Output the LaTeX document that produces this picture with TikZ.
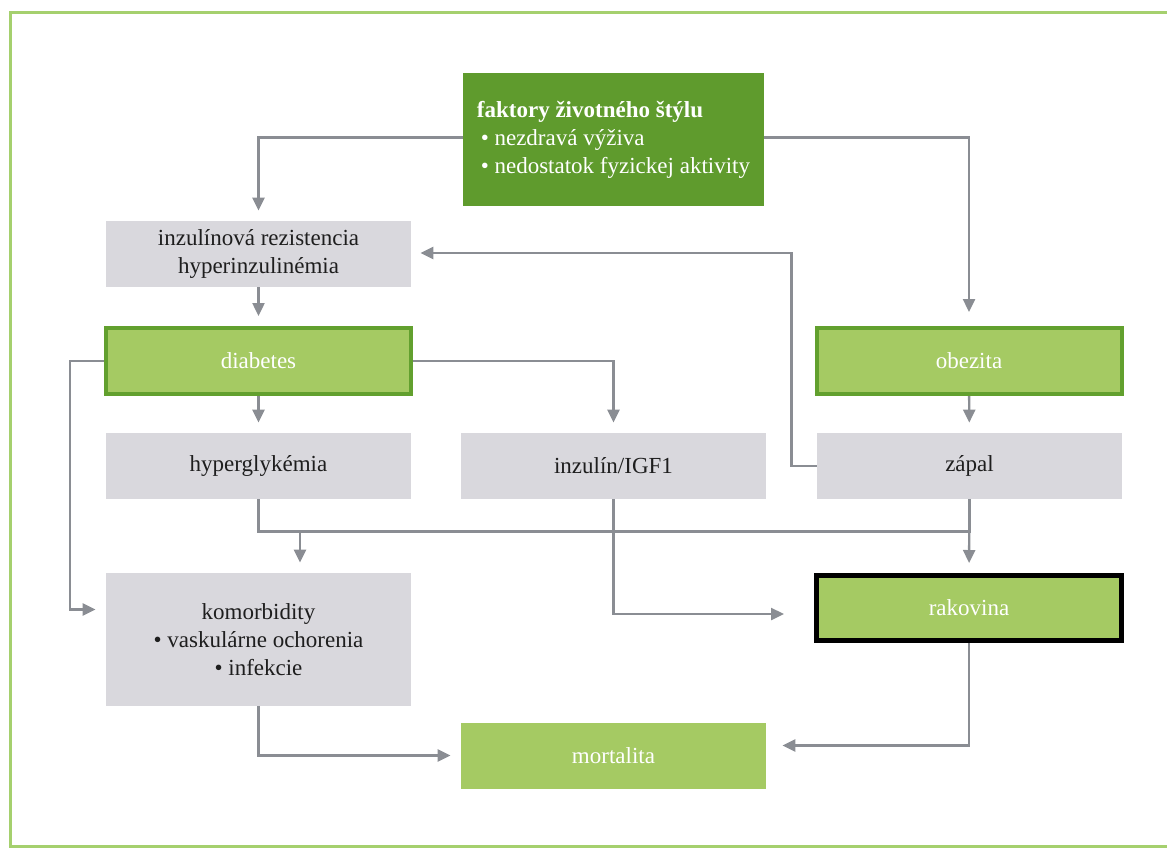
\documentclass[tikz,border=0pt]{standalone}
\usepackage{fontspec}
\setmainfont{Liberation Serif}
\usepackage{xcolor}
\usetikzlibrary{arrows.meta, positioning}

\definecolor{leafdark}{RGB}{95,155,45}
\definecolor{leaflight}{RGB}{165,202,99}
\definecolor{leafedge}{RGB}{98,160,46}
\definecolor{framegreen}{RGB}{165,208,110}
\definecolor{boxgray}{RGB}{217,216,221}
\definecolor{wiregray}{RGB}{138,141,147}
\definecolor{inkdark}{RGB}{30,30,30}

\tikzset{
  box/.style={inner sep=0pt, align=center, font=\fontsize{11.5}{14}\selectfont},
  graybox/.style={box, fill=boxgray, text=inkdark, minimum width=152.5pt, minimum height=33pt},
  leafbox/.style={box, fill=leaflight, text=white, minimum width=152.5pt, minimum height=33pt},
  diagbox/.style={box, fill=leaflight, draw=leafedge, line width=2pt, text=white, minimum width=152.5pt, minimum height=33pt},
  cancerbox/.style={box, fill=leaflight, draw=black, line width=2.5pt, text=white, minimum width=152.5pt, minimum height=32.5pt},
  wire/.style={draw=wiregray, line width=1.2pt},
  arr/.style={wire, -{Triangle[length=6.5pt,width=6pt]}, shorten >=5pt},
}

\begin{document}
\begin{tikzpicture}[x=0.5pt, y=-0.5pt]
	\useasboundingbox (0,0) rectangle (1167,848);
	% frame (open to the right)
	\draw[framegreen, line width=1.5pt] (10,12) rectangle (1180,846);
	% boxes
	\node[box, fill=leafdark, text=white, align=left, minimum width=150.5pt, minimum height=66.5pt] (lifestyle) at (613.5,139.5)
		{{\bfseries faktory životného štýlu}\\ \,\textbullet\ nezdravá výživa\\ \,\textbullet\ nedostatok fyzickej aktivity};
	\node[graybox] (resist) at (258.5,254) {inzulínová rezistencia\\hyperinzulinémia};
	\node[diagbox] (diab) at (258.5,361) {diabetes};
	\node[diagbox] (obes) at (969,361) {obezita};
	\node[graybox] (hyper) at (258.5,466) {hyperglykémia};
	\node[graybox] (igf) at (613.5,466) {inzulín/IGF1};
	\node[graybox] (inflam) at (969.5,466) {zápal};
	\node[graybox, minimum height=66.5pt] (comorb) at (258.5,639.5) {komorbidity\\\textbullet\ vaskulárne ochorenia\\\textbullet\ infekcie};
	\node[cancerbox] (cancer) at (969,608) {rakovina};
	\node[leafbox] (mort) at (613.5,755.5) {mortalita};
	\coordinate (busdrop) at (300,531);
	% connectors
	\draw[arr] ([yshift=1pt]lifestyle.west) -| (resist.north);
	\draw[arr, shorten >=7pt] ([yshift=1pt]lifestyle.east) -| (obes.north);
	\draw[arr] (resist) -- (diab);
	\draw[arr, shorten >=4.5pt] (inflam.west) -- ++(-25,0) |- ([yshift=0.5pt]resist.east);
	\draw[arr] (diab.east) -| (igf.north);
	\draw[arr] (diab.west) -- ++(-34,0) |- ([yshift=15pt]comorb.west);
	\draw[arr] (diab) -- (hyper);
	\draw[arr] (obes) -- (inflam);
	\draw[wire] (hyper.south) -- ++(0,32) -| (inflam.south);
	\draw[arr] (busdrop) -- (busdrop |- comorb.north);
	\draw[arr] (inflam.south) -- (cancer.north);
	\draw[arr, shorten >=15pt] (igf.south) |- ([yshift=-3pt]cancer.west);
	\draw[arr] (comorb.south) |- (mort.west);
	\draw[arr, shorten >=8pt] (cancer.south) |- ([yshift=5pt]mort.east);
\end{tikzpicture}
\end{document}
